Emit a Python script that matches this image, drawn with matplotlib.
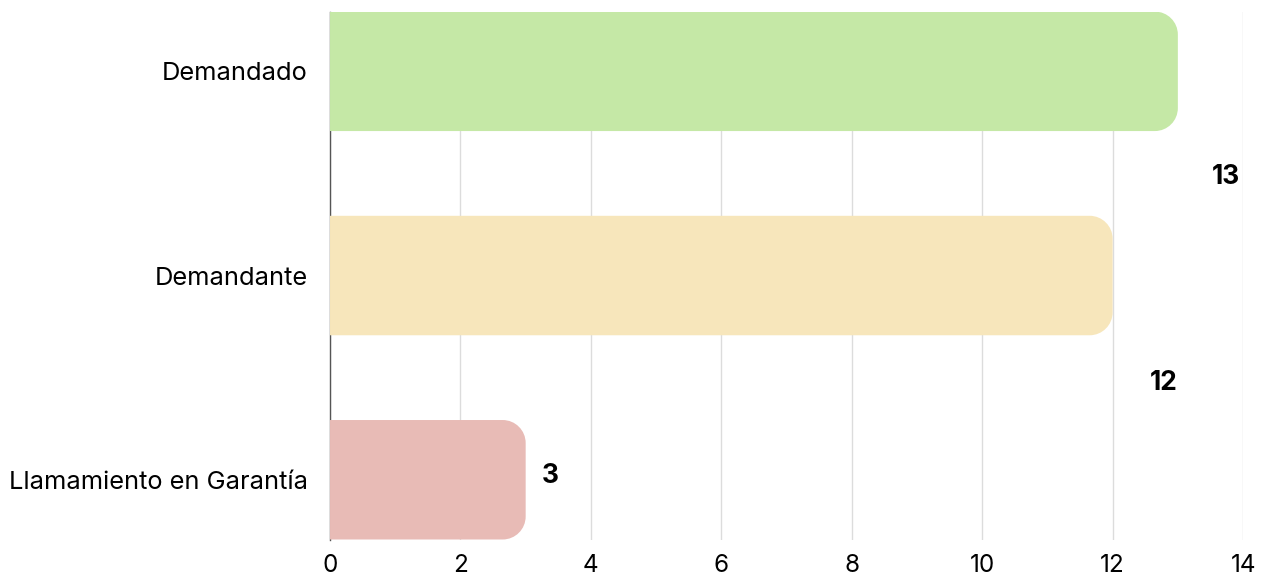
import matplotlib
matplotlib.use("Agg")
import matplotlib.pyplot as plt
from matplotlib.path import Path
from matplotlib.patches import PathPatch

categories = ["Llamamiento en Garantía", "Demandante", "Demandado"]
values = [3, 12, 13]
colors = ["#e8bbb6", "#f7e6bb", "#c5e8a6"]
xticks = [0, 2, 4, 6, 8, 10, 12, 14]

plt.rcParams["font.family"] = ["Inter", "DejaVu Sans"]

fig = plt.figure(figsize=(12.62, 5.76), dpi=100)
ax = fig.add_axes([0.2615, 0.0625, 0.7235, 0.9165])
ax.set_xlim(0, 14)
ax.set_ylim(-0.295, 2.29)

bar_h = 0.585
# corner radius ~23 px, converted to data units along each axis
rx = 23 / (0.7235 * 1262 / 14)
ry = 23 / (0.9165 * 576 / 2.585)
k = 0.5523


def rounded_bar(y, w, color):
    y0, y1 = y - bar_h / 2, y + bar_h / 2
    verts = [
        (0, y0), (w - rx, y0),
        (w - rx + k * rx, y0), (w, y0 + ry - k * ry), (w, y0 + ry),
        (w, y1 - ry),
        (w, y1 - ry + k * ry), (w - rx + k * rx, y1), (w - rx, y1),
        (0, y1), (0, y0),
    ]
    codes = [Path.MOVETO, Path.LINETO,
             Path.CURVE4, Path.CURVE4, Path.CURVE4,
             Path.LINETO,
             Path.CURVE4, Path.CURVE4, Path.CURVE4,
             Path.LINETO, Path.CLOSEPOLY]
    ax.add_patch(PathPatch(Path(verts, codes), facecolor=color,
                           edgecolor="none", zorder=3))


for i, (v, c) in enumerate(zip(values, colors)):
    rounded_bar(i, v, c)

# value labels (placed like in the original export)
lab = dict(fontsize=19, fontweight="bold", va="center", zorder=4)
ax.text(values[0] + 0.25, 0.02, str(values[0]), ha="left", **lab)
ax.text(values[1] + 0.99, 0.473, str(values[1]), ha="right", **lab)
ax.text(values[2] + 0.96, 1.483, str(values[2]), ha="right", **lab)

ax.set_yticks(range(len(categories)))
ax.set_yticklabels(categories, fontsize=18.3)
ax.set_xticks(xticks)
ax.set_xticklabels([str(t) for t in xticks], fontsize=17.5)
ax.tick_params(axis="both", length=0)
ax.tick_params(axis="x", pad=10)
ax.tick_params(axis="y", pad=16)

ax.grid(axis="x", color="#dcdcdc", linewidth=1, zorder=0)
ax.set_axisbelow(True)
for s in ["top", "right", "bottom"]:
    ax.spines[s].set_visible(False)
ax.spines["left"].set_color("#555555")
ax.spines["left"].set_linewidth(1)
ax.spines["left"].set_zorder(1)

fig.savefig("out.png", dpi=100)
